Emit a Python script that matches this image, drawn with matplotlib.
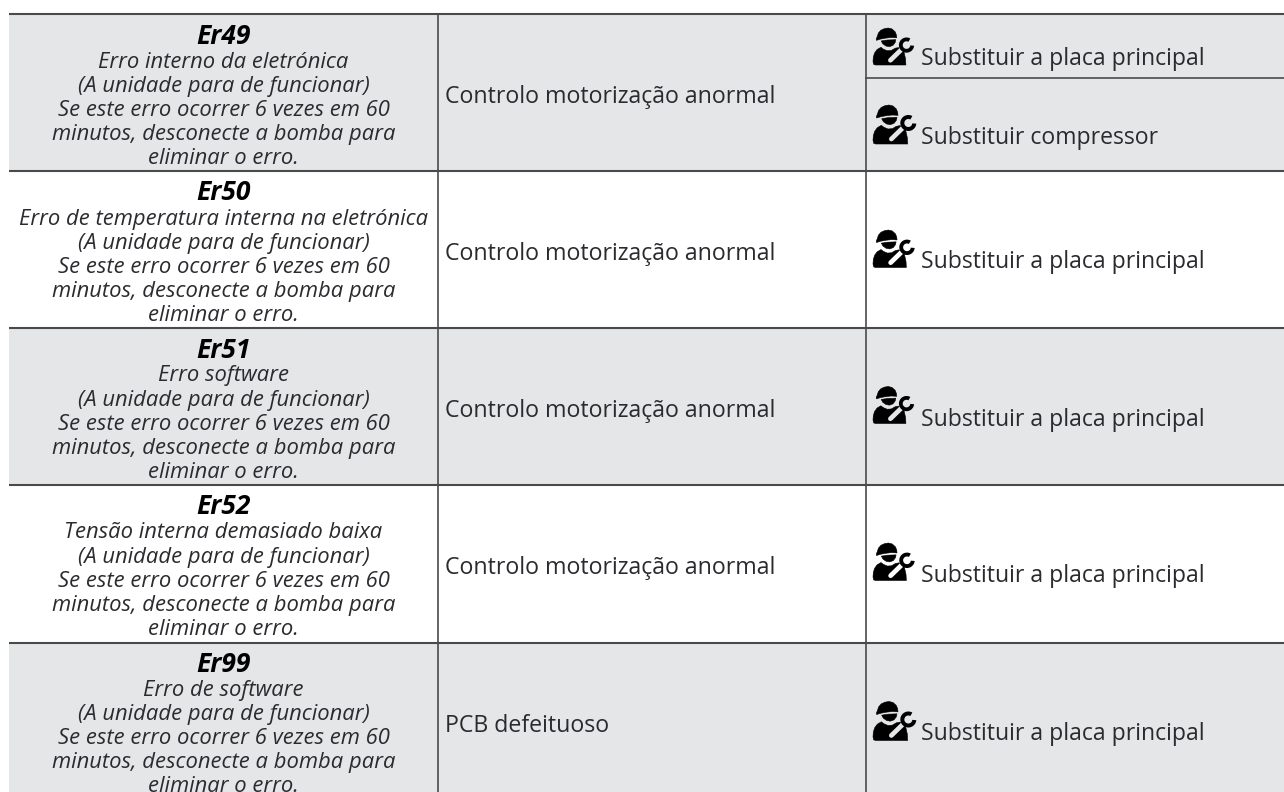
import matplotlib
matplotlib.use("Agg")
import matplotlib.pyplot as plt
from matplotlib.patches import Rectangle, Polygon, Wedge

plt.rcParams['font.family'] = ['Open Sans', 'DejaVu Sans']

W, H = 1284, 792
TEXT = '#2b2a2e'
GREY = '#e5e6e8'
LINE = '#4a4a4a'

codes = ['Er49', 'Er50', 'Er51', 'Er52', 'Er99']
first_lines = ['Erro interno da eletrónica', 'Erro de temperatura interna na eletrónica',
               'Erro software', 'Tensão interna demasiado baixa', 'Erro de software']
common_lines = ['(A unidade para de funcionar)', 'Se este erro ocorrer 6 vezes em 60',
                'minutos, desconecte a bomba para', 'eliminar o erro.']
causes = ['Controlo motorização anormal'] * 4 + ['PCB defeituoso']
actions = [['Substituir a placa principal', 'Substituir compressor'],
           ['Substituir a placa principal'], ['Substituir a placa principal'],
           ['Substituir a placa principal'], ['Substituir a placa principal']]
shaded = [True, False, True, False, True]
row_edges = [14, 171, 328, 485, 642.5, 800]
col_edges = [9, 437.5, 866, 1284]
sub_line = 78
action_baselines = [[65, 144], [268.5], [425.5], [581.5], [740]]
icon_bottoms = [[65, 144], [267.5], [423.5], [580.5], [740.5]]
icon_heights = [[37, 39], [37.5], [37], [37.5], [39]]

fig = plt.figure(figsize=(W / 100, H / 100), dpi=100, facecolor='white')
ax = fig.add_axes([0, 0, 1, 1])
ax.set_xlim(0, W)
ax.set_ylim(H, 0)
ax.axis('off')


def icon(x, bottom, h, bg):
    """Technician with wrench, drawn in a 128 x 117 local box."""
    s = h / 117
    X = lambda u: x + u * s
    Y = lambda v: bottom - h + v * s

    def poly(pts, fc='black', z=5):
        ax.add_patch(Polygon([(X(a), Y(b)) for a, b in pts], closed=True, fc=fc,
                             ec=fc, lw=0.4, joinstyle='round', zorder=z))
    # helmet dome and brim
    poly([(13, 28), (17, 16), (25, 7), (36, 2), (48, 0), (60, 3), (70, 12), (74, 22), (75, 31),
          (58, 30), (40, 32), (24, 35), (11, 39), (10, 35)])
    # face under the brim
    poly([(26, 41), (45, 38), (72, 37), (70, 46), (63, 55), (52, 59), (41, 57), (31, 50)])
    # body
    poly([(0, 106), (1, 92), (5, 79), (13, 68), (25, 61), (33, 67), (45, 72), (58, 71), (70, 64),
          (80, 62), (92, 66), (98, 76), (103, 98), (104, 117), (8, 117), (2, 115)])
    # pale stripe: the handle of the wrench
    ax.plot([X(55), X(92)], [Y(102), Y(66)], color=bg, lw=3.4, solid_capstyle='round', zorder=6)
    # wrench head, a C that opens to the upper right
    ax.add_patch(Wedge((X(106), Y(54)), 24 * s, 5, 300, width=12 * s, fc='black', ec='none', zorder=7))


for i, code in enumerate(codes):
    top, bot = row_edges[i], row_edges[i + 1]
    bg = GREY if shaded[i] else 'white'
    if shaded[i]:
        ax.add_patch(Rectangle((col_edges[0], top), col_edges[-1] - col_edges[0], bot - top,
                               fc=GREY, ec='none', zorder=1))
    cx = (col_edges[0] + col_edges[1]) / 2 + 0.3
    ax.text(cx, top + 29.5, code, fontsize=19, fontweight='bold', fontstyle='italic',
            color='black', ha='center', va='baseline', zorder=4)
    for k, line in enumerate([first_lines[i]] + common_lines):
        ax.text(cx, top + 53.5 + k * 24.1, line, fontsize=15.8, fontstyle='italic',
                color=TEXT, ha='center', va='baseline', zorder=4)
    ax.text(col_edges[1] + 7.5, top + 89, causes[i], fontsize=16.65, color=TEXT,
            ha='left', va='baseline', zorder=4)
    for act, base, ib, ih in zip(actions[i], action_baselines[i], icon_bottoms[i], icon_heights[i]):
        icon(col_edges[2] + 7, ib, ih, bg)
        ax.text(col_edges[2] + 55, base, act, fontsize=16.55, color=TEXT,
                ha='left', va='baseline', zorder=4)

for y in row_edges[:-1]:
    ax.plot([col_edges[0], W], [y, y], color=LINE, lw=1.5, zorder=3, solid_capstyle='butt')
ax.plot([col_edges[2], W], [sub_line, sub_line], color=LINE, lw=1.2, zorder=3)
for x in col_edges[1:3]:
    ax.plot([x, x], [row_edges[0], H], color=LINE, lw=1.2, zorder=3)

fig.savefig('out.png', dpi=100, facecolor='white')
